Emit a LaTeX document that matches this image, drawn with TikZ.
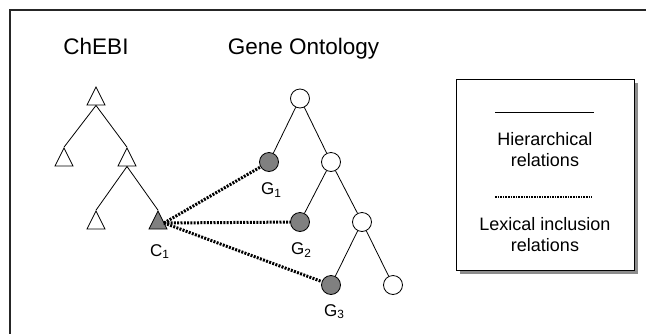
\documentclass[tikz,border=0pt]{standalone}
\usepackage{fontspec}
\setmainfont{Liberation Sans}
\usetikzlibrary{shapes.geometric,shadows}
\definecolor{shade}{RGB}{128,128,128}
\definecolor{shadowgray}{RGB}{140,140,140}
\tikzset{
  tri/.style={isosceles triangle, isosceles triangle apex angle=54,
    isosceles triangle stretches, shape border rotate=90,
    minimum width=18pt, minimum height=18pt, inner sep=0pt,
    draw, line width=0.8pt, fill=white},
  cir/.style={circle, minimum size=19pt, inner sep=0pt, draw,
    line width=0.8pt, fill=white},
  marked/.style={fill=shade},
  hier/.style={line width=0.8pt},
  lexical/.style={line width=3pt, dash pattern=on 2pt off 1.3pt},
  title/.style={anchor=base, font=\fontsize{22.5}{26}\selectfont, inner sep=0pt},
  lbl/.style={anchor=base west, font=\fontsize{17}{20}\selectfont, inner sep=0pt},
  legtext/.style={align=center, font=\fontsize{18}{21}\selectfont, inner sep=0pt},
}
\begin{document}
\begin{tikzpicture}[x=1pt, y=-1pt]
\useasboundingbox (0,0) rectangle (646,333);

% frame (top and left edges)
\coordinate (fbl) at (10,334);
\coordinate (ftl) at (10,10);
\coordinate (ftr) at (647,10);
\draw[line width=1.5pt, black!85] (fbl) -- (ftl) -- (ftr);

% titles
\node[title] (chebi) at (96,54) {ChEBI};
\node[title] (go) at (303.5,54) {Gene Ontology};

% ChEBI tree
\node[tri] (t0) at (96,99.5) {};
\node[tri] (t1) at (64,160.5) {};
\node[tri] (t2) at (127,160.5) {};
\node[tri] (t3) at (96,223.5) {};
\node[tri, marked] (c1) at (158,223.5) {};
\draw[hier] (t0.lower side) -- (t1.apex);
\draw[hier] (t0.lower side) -- (t2.apex);
\draw[hier] (t2.lower side) -- (t3.apex);
\draw[hier] (t2.lower side) -- (c1.apex);

% Gene Ontology tree
\node[cir] (o0) at (300,98.5) {};
\node[cir, marked] (g1) at (269,162) {};
\node[cir] (o1) at (331,162) {};
\node[cir, marked] (g2) at (300,222) {};
\node[cir] (o2) at (362,222) {};
\node[cir, marked] (g3) at (331,285) {};
\node[cir] (o3) at (393,285) {};
\draw[hier] (o0) -- (g1);
\draw[hier] (o0) -- (o1);
\draw[hier] (o1) -- (g2);
\draw[hier] (o1) -- (o2);
\draw[hier] (o2) -- (g3);
\draw[hier] (o2) -- (o3);

% labels
\node[lbl] (lc1) at (150,256) {C\textsubscript{1}};
\node[lbl] (lg1) at (261,194.5) {G\textsubscript{1}};
\node[lbl] (lg2) at (291,254.5) {G\textsubscript{2}};
\node[lbl] (lg3) at (324,316) {G\textsubscript{3}};

% lexical inclusion links
\coordinate (cx) at (164,223);
\draw[lexical] (cx) -- (g1);
\draw[lexical] (cx) -- (g2);
\draw[lexical] (cx) -- (g3);

% legend
\node[draw, line width=1pt, fill=white, minimum width=178pt, minimum height=191pt,
      inner sep=0pt,
      drop shadow={shadow xshift=4pt, shadow yshift=-4pt, fill=shadowgray, opacity=1}]
      (leg) at (545,174.5) {};
\coordinate (h1) at (495,112);
\coordinate (h2) at (594,112);
\draw[hier] (h1) -- (h2);
\node[legtext] (ht) at (545,150) {Hierarchical\\relations};
\coordinate (d1) at (495,197);
\coordinate (d2) at (592,197);
\draw[line width=2.2pt, dash pattern=on 1.5pt off 1.1pt] (d1) -- (d2);
\node[legtext] (lt) at (545,235) {Lexical inclusion\\relations};
\end{tikzpicture}
\end{document}
